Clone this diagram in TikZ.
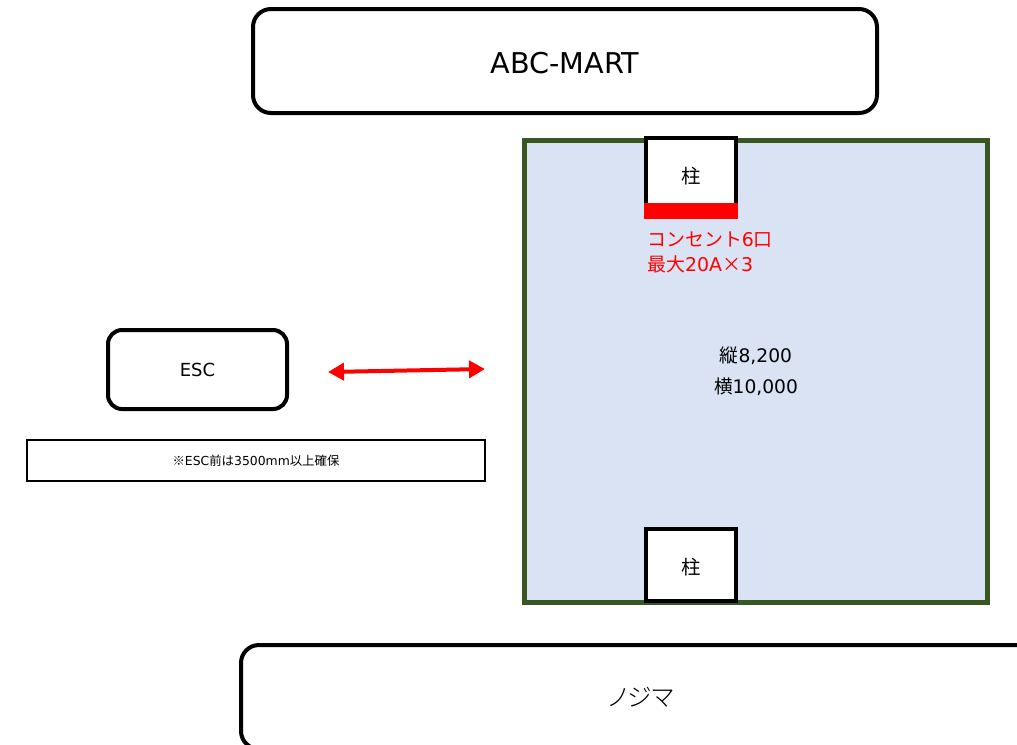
\documentclass[tikz,border=0pt]{standalone}
\usepackage{fontspec}
\setmainfont{DejaVu Sans}
\newfontfamily\jpfont{Noto Sans CJK JP}
\newfontfamily\jpnarrow[RawFeature=+palt]{Noto Sans CJK JP Light}
\usetikzlibrary{arrows.meta}
\definecolor{floorblue}{HTML}{DAE3F3}
\definecolor{floorgreen}{HTML}{385723}
\newcommand{\px}[1]{#1*0.75pt}
\tikzset{
  shopbox/.style={draw,line width=\px{4},rounded corners=\px{18},font=\fontsize{21.5}{25}\selectfont},
  pillarbox/.style={draw,fill=white,line width=\px{4},minimum width=\px{90},font=\jpfont\fontsize{14.5}{18}\selectfont},
  redlabel/.style={text=red,align=left,anchor=north west,inner sep=0pt,font=\fontsize{14.2}{18.75}\selectfont}
}
\begin{document}
\begin{tikzpicture}[x=0.75pt,y=-0.75pt]
  \useasboundingbox (0,0) rectangle (1017,744);
  \clip (0,0) rectangle (1017,744);
  % shops
  \node[shopbox,minimum width=\px{624},minimum height=\px{104},text height=18.6pt,text depth=0pt] (abcmart) at (565,61) {ABC-MART};
  \node[shopbox,minimum width=\px{800},minimum height=\px{104},font=\fontsize{18.5}{25}\selectfont] (nojima) at (641,697) {\jpnarrow ノジマ};
  % floor
  \node[draw=floorgreen,fill=floorblue,line width=\px{5},minimum width=\px{463},minimum height=\px{462},
    align=center,font=\fontsize{14}{23.25}\selectfont] (floorarea) at (756,371) {{\jpfont 縦}8,200\\{\jpfont 横}10,000};
  \node[pillarbox,minimum height=\px{76}] (pillartop) at (691,176) {柱};
  \node[pillarbox,minimum height=\px{72},text height=14pt,text depth=0pt] (pillarbottom) at (691,565) {柱};
  \node[fill=red,inner sep=0pt,minimum width=\px{94},minimum height=\px{16}] (outletbar) at (691,211) {};
  \node[redlabel] (outletlabel) at (647,232) {{\jpfont コンセント}6{\jpfont 口}\\{\jpfont 最大}20A{\jpfont ×}3};
  % escalator
  \node[draw,line width=\px{4},rounded corners=\px{14},minimum width=\px{179},minimum height=\px{79},
    font=\fontsize{13.5}{17}\selectfont] (esc) at (197.5,369.5) {ESC};
  \node[draw,line width=\px{2},minimum width=\px{458},minimum height=\px{41},
    font=\fontsize{9.3}{11}\selectfont] (escnote) at (256,460.5) {{\jpfont ※}ESC{\jpfont 前は}3500mm{\jpfont 以上確保}};
  \coordinate (arrowleft) at (328,372);
  \coordinate (arrowright) at (485,369);
  \draw[{Triangle[length=\px{16},width=\px{17}]}-{Triangle[length=\px{16},width=\px{17}]},red,line width=\px{4}] (arrowleft) -- (arrowright);
\end{tikzpicture}
\end{document}
